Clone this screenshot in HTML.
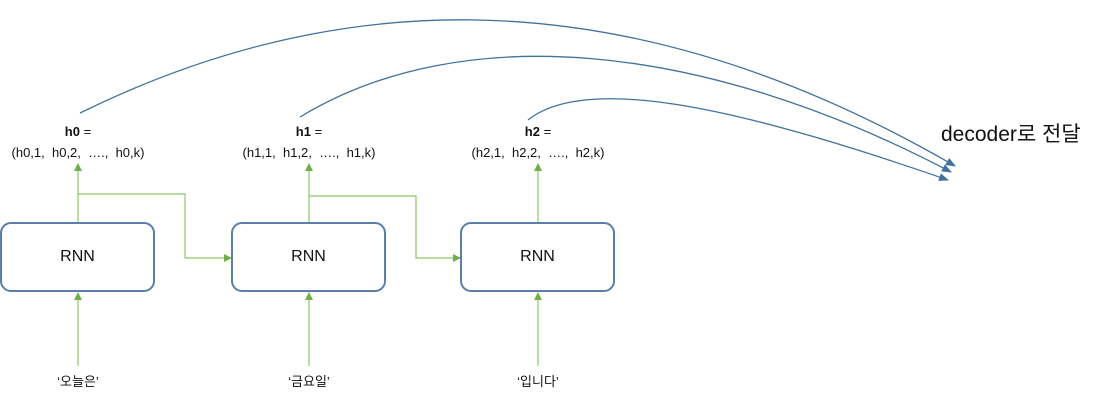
<!DOCTYPE html>
<html><head><meta charset="utf-8"><style>
body{margin:0;background:#fff;width:1112px;height:400px;overflow:hidden;position:relative;font-family:"Liberation Sans","Noto Sans CJK KR",sans-serif;color:#111}
.b{position:absolute;width:155px;height:70px;border:2px solid #5a7fa8;border-radius:11px;box-sizing:border-box;text-align:center;line-height:66px;font-size:16px}
.t{position:absolute;text-align:center;font-size:13px;width:200px;line-height:21px}
</style></head><body>
<svg width="1112" height="400" style="position:absolute;left:0;top:0">
<defs>
<marker id="g" markerWidth="8" markerHeight="8" refX="7" refY="4" orient="auto" markerUnits="userSpaceOnUse"><path d="M0,0 L8,4 L0,8z" fill="#70ad47"/></marker>
<marker id="bl" markerWidth="10" markerHeight="8" refX="9" refY="4" orient="auto" markerUnits="userSpaceOnUse"><path d="M0,0 L10,4 L0,8z" fill="#41719c"/></marker>
</defs>
<g stroke="#8cc66a" stroke-width="1.2" fill="none">
<line x1="78" y1="223" x2="78" y2="164" marker-end="url(#g)"/>
<line x1="309" y1="223" x2="309" y2="164" marker-end="url(#g)"/>
<line x1="538" y1="223" x2="538" y2="164" marker-end="url(#g)"/>
<polyline points="78,194 185,194 185,258 231,258" marker-end="url(#g)"/>
<polyline points="309,196 416,196 416,258 460,258" marker-end="url(#g)"/>
<line x1="78" y1="366" x2="78" y2="293" marker-end="url(#g)"/>
<line x1="309" y1="366" x2="309" y2="293" marker-end="url(#g)"/>
<line x1="538" y1="366" x2="538" y2="293" marker-end="url(#g)"/>
</g>
<g stroke="#41719c" stroke-width="1.3" fill="none">
<path d="M80,113 C310,0 600,-40 955,166" marker-end="url(#bl)"/>
<path d="M300,117 C460,20 700,40 951,172" marker-end="url(#bl)"/>
<path d="M528,120 C590,70 760,115 948,180" marker-end="url(#bl)"/>
</g>
</svg>
<div class="b" style="left:0px;top:222px">RNN</div>
<div class="b" style="left:231px;top:222px">RNN</div>
<div class="b" style="left:460px;top:222px">RNN</div>
<div class="t" style="left:-22px;top:121px"><b>h0</b> =<br>(h0,1,&nbsp; h0,2,&nbsp; ….,&nbsp; h0,k)</div>
<div class="t" style="left:209px;top:121px"><b>h1</b> =<br>(h1,1,&nbsp; h1,2,&nbsp; ….,&nbsp; h1,k)</div>
<div class="t" style="left:438px;top:121px"><b>h2</b> =<br>(h2,1,&nbsp; h2,2,&nbsp; ….,&nbsp; h2,k)</div>
<div class="t" style="left:-22px;top:371px">‘오늘은’</div>
<div class="t" style="left:209px;top:371px">‘금요일’</div>
<div class="t" style="left:438px;top:371px">‘입니다’</div>
<div style="position:absolute;left:941px;top:118px;font-size:21px">decoder로 전달</div>
</body></html>
